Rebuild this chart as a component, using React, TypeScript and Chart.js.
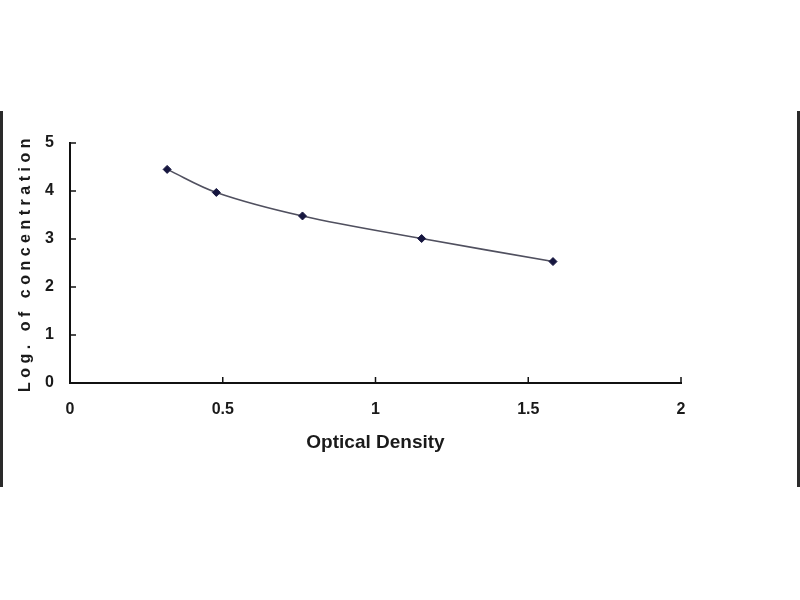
import React, { useEffect, useRef } from "react";
import { Chart, registerables } from "chart.js";

Chart.register(...registerables);

const opticalDensity = [0.318, 0.479, 0.761, 1.151, 1.581];
const logConcentration = [4.45, 3.97, 3.48, 3.01, 2.53];
const xTickLabels = ["0", "0.5", "1", "1.5", "2"];
const yTickLabels = ["0", "1", "2", "3", "4", "5"];
const xTitle = "Optical Density";
const yTitle = "Log. of concentration";

const FONT = "'Liberation Sans', Arial, sans-serif";

const innerTicks = {
  id: "innerTicks",
  afterDraw(chart: any) {
    const { ctx, chartArea } = chart;
    const xs = chart.scales.x;
    const ys = chart.scales.y;
    ctx.save();
    ctx.strokeStyle = "#111";
    ctx.lineWidth = 1.5;
    xs.ticks.forEach((t: any) => {
      if (t.value === xs.min) return;
      const px = xs.getPixelForValue(t.value);
      ctx.beginPath();
      ctx.moveTo(px, chartArea.bottom);
      ctx.lineTo(px, chartArea.bottom - 6);
      ctx.stroke();
    });
    ys.ticks.forEach((t: any) => {
      if (t.value === ys.min) return;
      const py = ys.getPixelForValue(t.value);
      ctx.beginPath();
      ctx.moveTo(chartArea.left, py);
      ctx.lineTo(chartArea.left + 6, py);
      ctx.stroke();
    });
    ctx.restore();
  },
};

function withSpacing(chart: any, fn: () => void, spacing: string) {
  const ctx = chart.ctx as any;
  const prev = ctx.letterSpacing;
  ctx.letterSpacing = spacing;
  fn();
  ctx.letterSpacing = prev || "0px";
}

const textSpacing = {
  id: "textSpacing",
  beforeDraw(chart: any) {
    const ys = chart.scales.y;
    if (ys && !ys.__spaced) {
      const orig = ys.drawTitle.bind(ys);
      ys.drawTitle = () => withSpacing(chart, orig, "4.5px");
      ys.__spaced = true;
    }
  },
};

export default function App() {
  const ref = useRef<HTMLCanvasElement>(null);

  useEffect(() => {
    if (!ref.current) return;
    const chart = new Chart(ref.current, {
      type: "scatter",
      data: {
        datasets: [
          {
            data: opticalDensity.map((x, i) => ({ x, y: logConcentration[i] })),
            showLine: true,
            tension: 0.35,
            borderColor: "#50505f",
            borderWidth: 1.6,
            pointStyle: "rectRot",
            pointRadius: 4,
            pointBackgroundColor: "#16163f",
            pointBorderColor: "#16163f",
            pointBorderWidth: 1,
          },
        ],
      },
      options: {
        responsive: false,
        animation: false,
        layout: { padding: { left: 0, right: 119, top: 143, bottom: 0 } },
        plugins: {
          legend: { display: false },
          tooltip: { enabled: false },
        },
        scales: {
          x: {
            type: "linear",
            min: 0,
            max: 2,
            afterFit: (s: any) => {
              s.height = 217;
            },
            grid: { display: false, drawTicks: false },
            border: { display: true, color: "#111", width: 2 },
            ticks: {
              stepSize: 0.5,
              padding: 17,
              color: "#1a1a1a",
              font: { family: FONT, size: 16, weight: "bold" },
              callback: (v: any) => xTickLabels[Math.round(Number(v) / 0.5)] ?? "",
            },
            title: {
              display: true,
              text: xTitle,
              color: "#1a1a1a",
              font: { family: FONT, size: 19, weight: "bold" },
              padding: { top: 0, bottom: 146 },
            },
          },
          y: {
            type: "linear",
            min: 0,
            max: 5,
            afterFit: (s: any) => {
              s.width = 70;
            },
            grid: { display: false, drawTicks: false },
            border: { display: true, color: "#111", width: 2 },
            ticks: {
              stepSize: 1,
              padding: 16,
              color: "#1a1a1a",
              font: { family: FONT, size: 16, weight: "bold" },
              callback: (v: any) => yTickLabels[Math.round(Number(v))] ?? "",
            },
            title: {
              display: true,
              text: yTitle,
              color: "#1a1a1a",
              font: { family: FONT, size: 16, weight: "bold" },
              padding: { top: 16, bottom: 0 },
            },
          },
        },
      },
      plugins: [innerTicks, textSpacing],
    });
    chart.draw();
    return () => chart.destroy();
  }, []);

  return (
    <div style={{ position: "fixed", left: 0, top: 0, width: 800, height: 600, background: "#fff" }}>
      <canvas ref={ref} width={800} height={600} style={{ display: "block" }} />
      <div
        style={{
          position: "absolute",
          left: 0,
          top: 111,
          width: 800,
          height: 376,
          boxSizing: "border-box",
          borderLeft: "3px solid #2a2a2a",
          borderRight: "3px solid #2a2a2a",
          pointerEvents: "none",
        }}
      />
    </div>
  );
}
